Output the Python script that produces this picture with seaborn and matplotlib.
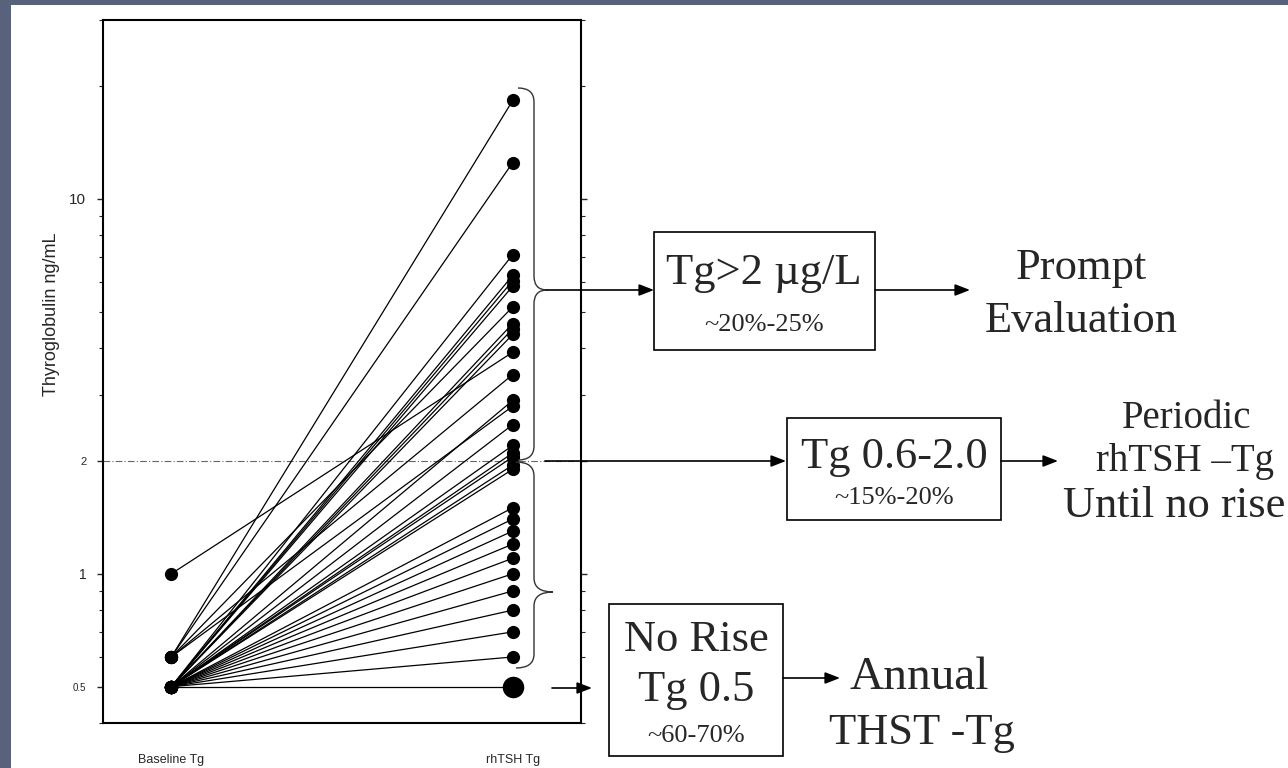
import matplotlib
matplotlib.use("Agg")
import matplotlib.pyplot as plt
import seaborn as sns
import numpy as np
import pandas as pd
from matplotlib.patches import Rectangle, PathPatch
from matplotlib.path import Path
from matplotlib.ticker import FixedLocator, LogLocator, NullFormatter

# Data
timepoints = ["Baseline Tg", "rhTSH Tg"]
baseline_tg = [0.6, 0.6, 0.5, 0.5, 0.5, 0.5, 0.6, 0.5, 0.5, 0.5, 1.0, 0.6, 0.5, 0.6, 0.5,
               0.5, 0.5, 0.5, 0.5, 0.5, 0.5, 0.5, 0.5, 0.5, 0.5, 0.5, 0.5, 0.5, 0.5, 0.5, 0.5]
rhtsh_tg = [18.3, 12.5, 7.1, 6.25, 6.05, 5.85, 5.15, 4.65, 4.5, 4.35, 3.9, 3.4, 2.9, 2.8, 2.5,
            2.2, 2.1, 2.05, 1.95, 1.9, 1.5, 1.4, 1.3, 1.2, 1.1, 1.0, 0.9, 0.8, 0.7, 0.6, 0.5]
no_rise_tg = [0.5]
threshold_tg = 2
ytick_values = [0.5, 1, 2, 10]
ytick_labels = ["0.5", "1", "2", "10"]

n = len(rhtsh_tg)
df = pd.DataFrame({
    "patient": np.repeat(np.arange(n), 2),
    "time": np.tile([0, 1], n),
    "tg": np.column_stack([baseline_tg, rhtsh_tg]).ravel(),
})

sns.set_style("ticks")
plt.rcParams["font.family"] = ["Liberation Sans", "DejaVu Sans"]

fig = plt.figure(figsize=(12.88, 7.68), dpi=100)
fig.patch.set_facecolor("white")
ax = fig.add_axes([103 / 1288, 1 - 723 / 768, 478 / 1288, 703 / 768])

sns.lineplot(data=df, x="time", y="tg", units="patient", estimator=None, color="black",
             linewidth=0.9, marker="o", markersize=9.5, markeredgewidth=0, ax=ax, legend=False)
sns.scatterplot(x=[1] * len(no_rise_tg), y=no_rise_tg, s=240, color="black", linewidth=0, ax=ax, zorder=5)
ax.axhline(threshold_tg, color="0.4", lw=0.8, ls=(0, (6, 2, 1, 2)), zorder=0)

ax.set_yscale("log")
ax.set_ylim(0.4, 30)
ax.set_xlim(-0.2, 1.2)
ax.yaxis.set_major_locator(FixedLocator(ytick_values))
ax.set_yticklabels(ytick_labels)
for lab, fs in zip(ax.get_yticklabels(), [7, 10, 8, 11]):
    lab.set_fontsize(fs)
ax.yaxis.set_minor_locator(LogLocator(base=10, subs=np.arange(2, 10)))
ax.yaxis.set_minor_formatter(NullFormatter())
ax.tick_params(axis="y", which="major", direction="out", length=4, width=1, right=True, pad=8)
ax.tick_params(axis="y", which="minor", direction="out", length=3, width=0.8, right=True)
ax.set_xticks([0, 1])
ax.set_xticklabels(timepoints, fontsize=9)
ax.tick_params(axis="x", length=0, pad=22)
ax.set_xlabel("")
ax.set_ylabel("Thyroglobulin ng/mL", fontsize=13)
ax.yaxis.set_label_coords(-0.09, 0.582)
for sp in ax.spines.values():
    sp.set_visible(True)
    sp.set_linewidth(1.5)
    sp.set_color("black")

# overlay in pixel coordinates for the slide annotations
ov = fig.add_axes([0, 0, 1, 1], zorder=3)
ov.set_xlim(0, 1288)
ov.set_ylim(768, 0)
ov.axis("off")
ov.patch.set_alpha(0)

border = "#58627a"
ov.add_patch(Rectangle((0, 0), 11, 768, color=border, lw=0))
ov.add_patch(Rectangle((0, 0), 1288, 5, color=border, lw=0))


def brace(x0, xm, xt, y0, y1, ym, r=14):
    verts = [(x0, y0), (xm, y0), (xm, y0 + r), (xm, ym - r), (xm, ym), (xt, ym),
             (xm, ym), (xm, ym + r), (xm, y1 - r), (xm, y1), (x0, y1)]
    codes = [Path.MOVETO, Path.CURVE3, Path.CURVE3, Path.LINETO, Path.CURVE3, Path.CURVE3,
             Path.CURVE3, Path.CURVE3, Path.LINETO, Path.CURVE3, Path.CURVE3]
    ov.add_patch(PathPatch(Path(verts, codes), fill=False, lw=1.0, color="0.2"))


brace(518, 534, 547, 88, 460, 290)
brace(516, 534, 553, 462, 668, 592)


def arrow(x0, x1, y):
    ov.annotate("", xy=(x1, y), xytext=(x0, y),
                arrowprops=dict(arrowstyle="-|>,head_length=0.9,head_width=0.35",
                                color="black", lw=1.2, shrinkA=0, shrinkB=0))


arrow(547, 654, 290)
arrow(875, 970, 290)
arrow(545, 786, 461)
arrow(1001, 1058, 461)
arrow(552, 592, 688)
arrow(783, 840, 678)

serif = ["Liberation Serif", "DejaVu Serif"]
for (x0, y0, x1, y1) in [(654, 232, 875, 350), (787, 418, 1001, 520), (609, 604, 783, 756)]:
    ov.add_patch(Rectangle((x0, y0), x1 - x0, y1 - y0, facecolor="white", edgecolor="black", lw=1.2))

big = 32
small = 19
ov.text(764, 273, "Tg>2 µg/L", fontsize=big, family=serif, ha="center", va="center")
ov.text(764, 325, "~20%-25%", fontsize=small, family=serif, ha="center", va="center")
ov.text(894, 457, "Tg 0.6-2.0", fontsize=big, family=serif, ha="center", va="center")
ov.text(894, 498, "~15%-20%", fontsize=small, family=serif, ha="center", va="center")
ov.text(696, 640, "No Rise", fontsize=big, family=serif, ha="center", va="center")
ov.text(696, 690, "Tg 0.5", fontsize=big, family=serif, ha="center", va="center")
ov.text(696, 736, "~60-70%", fontsize=small, family=serif, ha="center", va="center")

ov.text(1081, 268, "Prompt", fontsize=big, family=serif, ha="center", va="center")
ov.text(1081, 321, "Evaluation", fontsize=big, family=serif, ha="center", va="center")
ov.text(1187, 418, "Periodic", fontsize=28, family=serif, ha="center", va="center")
ov.text(1185, 462, "rhTSH \u2013Tg", fontsize=28, family=serif, ha="center", va="center")
ov.text(1063, 506, "Until no rise", fontsize=big, family=serif, ha="left", va="center")
ov.text(919, 678, "Annual", fontsize=34, family=serif, ha="center", va="center")
ov.text(922, 733, "THST -Tg", fontsize=big, family=serif, ha="center", va="center")

fig.savefig("out.png", dpi=100)
